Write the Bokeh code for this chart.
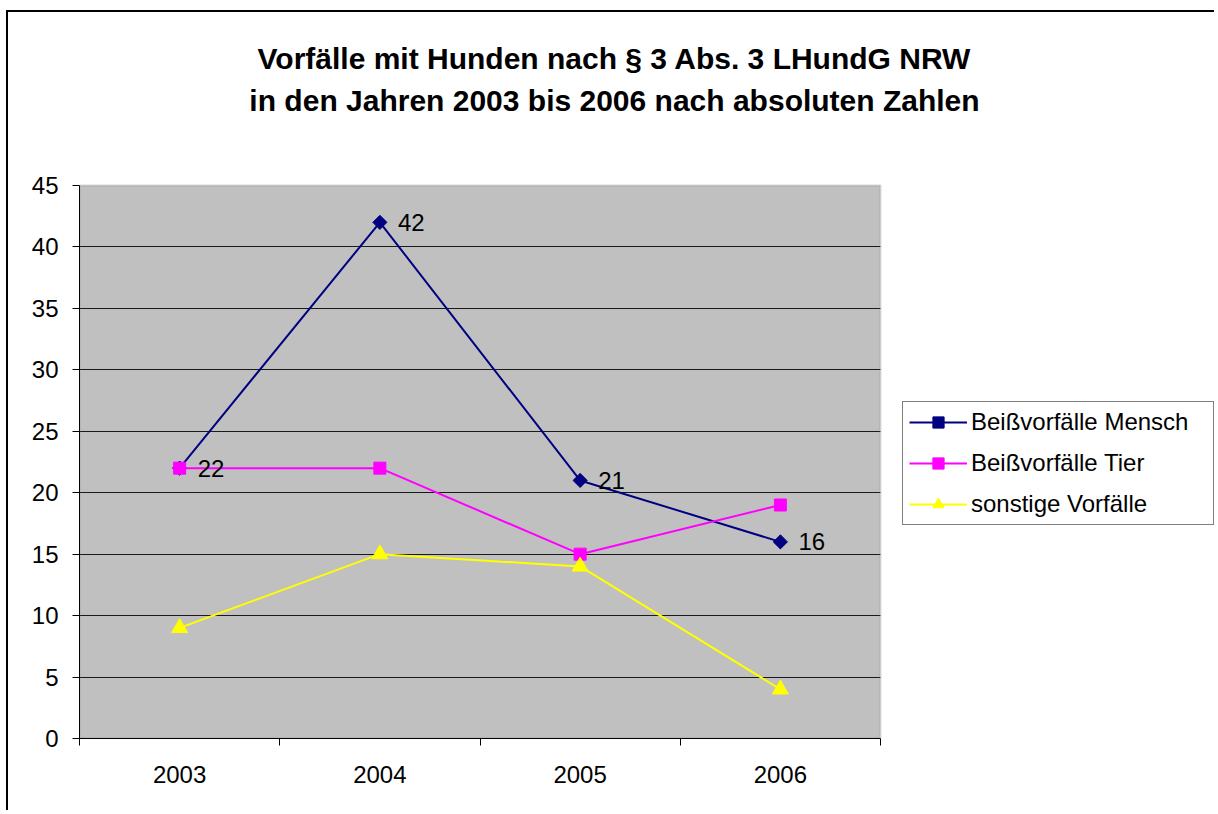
import math
from bokeh.plotting import figure
from bokeh.models import (Range1d, FixedTicker, Legend, LegendItem, Label,
                          BoxAnnotation, ColumnDataSource, LabelSet)
from bokeh.core.properties import value
from bokeh.embed import file_html
from bokeh.resources import INLINE

# ---- data ----
years = ["2003", "2004", "2005", "2006"]
mensch = [22, 42, 21, 16]
tier = [22, 22, 15, 19]
sonstige = [9, 15, 14, 4]
series_names = ["Beißvorfälle Mensch", "Beißvorfälle Tier", "sonstige Vorfälle"]
title_lines = ["Vorfälle mit Hunden nach § 3 Abs. 3 LHundG NRW",
               "in den Jahren 2003 bis 2006 nach absoluten Zahlen"]
y_ticks = [0, 5, 10, 15, 20, 25, 30, 35, 40, 45]
y_max = 45

FONT = "Liberation Sans"

# ---- layout (pixels) ----
W, H = 1208, 800                  # canvas size
B_LEFT, B_TOP, B_BOTTOM = 71, 20, 74
PLOT_W, PLOT_H = 801, 553         # size of the grey plot area
FRAME_W = W - B_LEFT
FRAME_H = H - B_TOP - B_BOTTOM
n = len(years)
x_end = n * FRAME_W / PLOT_W
y_end = y_max * FRAME_H / PLOT_H

def px_x(px):   # horizontal pixel offset from plot-area left edge -> data
    return px / PLOT_W * n

def px_y(px):   # vertical pixel offset above plot-area bottom -> data
    return px / PLOT_H * y_max

xpos = [i + 0.5 for i in range(n)]

p = figure(width=W, height=H, output_backend="svg", toolbar_location=None,
           x_range=Range1d(0, x_end), y_range=Range1d(0, y_end),
           min_border_left=B_LEFT, min_border_right=0, min_border_top=B_TOP,
           min_border_bottom=B_BOTTOM)
p.styles = {"margin-left": "6px", "margin-top": "10px",
            "border-left": "2px solid black", "border-top": "2px solid black"}
p.title.text = ""
p.title.text_font_size = "1px"
p.title.standoff = 0
p.background_fill_color = "white"
p.border_fill_color = "white"
p.outline_line_color = None

# grey plot area
p.add_layout(BoxAnnotation(left=0, right=n, bottom=0, top=y_max, fill_color="#C0C0C0",
                           fill_alpha=1, line_color=None, level="image"))

# axes
p.yaxis.ticker = FixedTicker(ticks=y_ticks)
p.yaxis.bounds = (0, y_max)
p.yaxis.major_label_text_font = FONT
p.yaxis.major_label_text_font_size = "24px"
p.yaxis.major_label_text_color = "black"
p.yaxis.major_tick_out = 7
p.yaxis.major_tick_in = 0
p.yaxis.minor_tick_line_color = None
p.yaxis.axis_line_color = "black"
p.yaxis.major_tick_line_color = "black"
p.yaxis.major_label_standoff = 14

p.xaxis.ticker = FixedTicker(ticks=xpos, minor_ticks=list(range(n + 1)))
p.xaxis.bounds = (0, n)
p.xaxis.major_label_overrides = {x: y for x, y in zip(xpos, years)}
p.xaxis.major_label_text_font = FONT
p.xaxis.major_label_text_font_size = "24px"
p.xaxis.major_label_text_color = "black"
p.xaxis.major_tick_out = 0
p.xaxis.major_tick_in = 0
p.xaxis.minor_tick_out = 7
p.xaxis.minor_tick_in = 0
p.xaxis.minor_tick_line_color = "black"
p.xaxis.axis_line_color = "black"
p.xaxis.major_label_standoff = 20

p.xgrid.grid_line_color = None
p.ygrid.ticker = FixedTicker(ticks=y_ticks[1:-1])
p.ygrid.grid_line_color = "#1a1a1a"
p.ygrid.grid_line_width = 1

# hide grid lines to the right of the plot area, then draw plot-area border
p.add_layout(BoxAnnotation(left=n, right=x_end, bottom=0, top=y_max, fill_color="white",
                           fill_alpha=1, line_color=None, level="underlay"))
p.add_layout(BoxAnnotation(left=0, right=n, bottom=0, top=y_max, fill_color=None,
                           fill_alpha=0, line_color="#808080", line_width=2,
                           level="underlay"))

# series
colors = ["#000080", "#FF00FF", "#FFFF00"]
markers = ["square", "square", "triangle"]
angles = [math.pi / 4, 0, 0]
sizes = [10, 12, 16]
items = []
for name, vals, c, m, a, s in zip(series_names, [mensch, tier, sonstige], colors,
                                  markers, angles, sizes):
    src = ColumnDataSource(dict(x=xpos, y=vals))
    l = p.line("x", "y", source=src, line_color=c, line_width=2)
    sc = p.scatter("x", "y", source=src, marker=m, angle=a, size=s, fill_color=c, line_color=c)
    items.append(LegendItem(label=name, renderers=[l, sc]))

# data labels for first series
lsrc = ColumnDataSource(dict(x=xpos, y=mensch, t=[str(v) for v in mensch]))
p.add_layout(LabelSet(x="x", y="y", text="t", source=lsrc, x_offset=18,
                      text_align="left", text_baseline="middle",
                      text_font=value(FONT), text_font_size="24px", text_color="black"))

legend = Legend(items=items, location=(823, 213), orientation="vertical")
legend.label_text_font = FONT
legend.label_text_font_size = "24px"
legend.label_text_color = "black"
legend.border_line_color = "black"
legend.border_line_width = 1
legend.background_fill_color = "white"
legend.background_fill_alpha = 1
legend.glyph_width = 58
legend.glyph_height = 28
legend.label_height = 28
legend.label_width = 236
legend.label_standoff = 4
legend.spacing = 13
legend.padding = 6
legend.margin = 0
p.add_layout(legend, "center")

# title: two centred lines above the plot area
for i, t in enumerate(title_lines):
    p.add_layout(Label(x=px_x(535), y=px_y(680 - 42 * i), text=t,
                       text_align="center", text_baseline="middle",
                       text_font=FONT, text_font_style="bold",
                       text_font_size="30px", text_color="black"))

open("out.html", "w").write(file_html(p, INLINE))
